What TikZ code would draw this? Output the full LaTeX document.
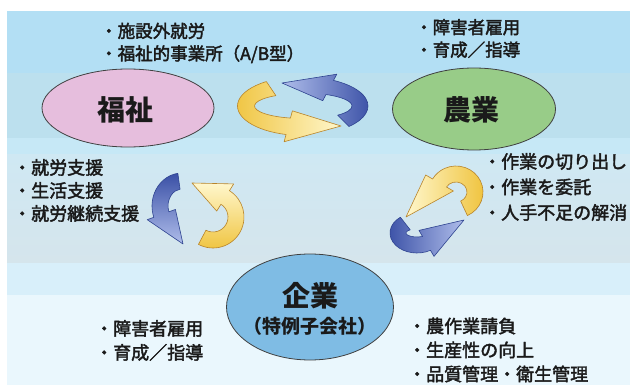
\documentclass[tikz,border=0pt]{standalone}
\usepackage{fontspec}
\setmainfont{Noto Sans CJK JP}
\newfontfamily\jpbul[FakeBold=2.2]{Noto Sans CJK JP}
\usetikzlibrary{shapes.geometric}
\definecolor{bandA}{HTML}{B3DFF4}
\definecolor{bandB}{HTML}{BCE0EE}
\definecolor{bandC}{HTML}{C6E8F6}
\definecolor{bandD}{HTML}{CFE8F3}
\definecolor{bandDD}{HTML}{D5E5EC}
\definecolor{bandE}{HTML}{D8EFFA}
\definecolor{bandF}{HTML}{EAF7FD}
\definecolor{pinkfill}{HTML}{E6BEDD}
\definecolor{greenfill}{HTML}{98CC88}
\definecolor{bluefill}{HTML}{7FBCE4}
\definecolor{ylight}{HTML}{FFF7CC}
\definecolor{ydark}{HTML}{EFC23A}
\definecolor{yedge}{HTML}{B8842A}
\definecolor{blight}{HTML}{AFBDEA}
\definecolor{bdark}{HTML}{3A50A6}
\definecolor{bedge}{HTML}{2E4390}
\definecolor{txt}{HTML}{1A1A1A}
% #1 centre, #2 rx, #3 ry, #4 tail angle, #5 head-base angle, #6 half band width,
% #7 half head width, #8 tip (relative), #9 style
\newcommand\cycarrow[9]{%
  \begin{scope}[shift={(#1)}]
    \path[#9] ({#4}:{#2+#6} and {#3+#6})
      arc[start angle=#4, end angle=#5, x radius={#2+#6}, y radius={#3+#6}]
      -- ({#5}:{#2+#7} and {#3+#7}) -- (#8) -- ({#5}:{#2-#7} and {#3-#7})
      -- ({#5}:{#2-#6} and {#3-#6})
      arc[start angle=#5, end angle=#4, x radius={#2-#6}, y radius={#3-#6}]
      -- cycle;
  \end{scope}}
\tikzset{
  ell/.style={ellipse, draw=black!75, line width=0.8pt, inner sep=0pt},
  title/.style={font=\bfseries\fontsize{28}{30}\selectfont, text=txt, inner sep=0pt},
  bl/.style={anchor=west, align=left, text=txt, inner sep=0pt, font=\jpbul\fontsize{18}{24}\selectfont},
  bltop/.style={bl, font=\jpbul\fontsize{17.5}{22.5}\selectfont},
  yarr/.style={draw=yedge, line width=0.6pt, line join=round},
  barr/.style={draw=bedge, line width=0.6pt, line join=round},
}
\begin{document}
\begin{tikzpicture}[x=1pt, y=-1pt]
\useasboundingbox (0,0) rectangle (630,385);
\fill[white] (0,0) rectangle (630,385);
\fill[bandA] (7,11) rectangle (630,73);
\fill[bandB] (7,73) rectangle (630,138);
\fill[bandC] (7,138) rectangle (630,155);
\shade[top color=bandD, bottom color=bandDD] (7,155) rectangle (630,263);
\fill[bandE] (7,263) rectangle (630,295);
\fill[bandF] (7,295) rectangle (630,385);

% ellipses
\node[ell, fill=pinkfill, minimum width=172pt, minimum height=78pt] (fukushi) at (128,108) {};
\node[title] (fukushiT) at (125,110) {福祉};
\node[ell, fill=greenfill, minimum width=163pt, minimum height=82pt] (nogyo) at (474,109) {};
\node[title] (nogyoT) at (471,110) {農業};
\node[ell, fill=bluefill, minimum width=167pt, minimum height=106pt] (kigyo) at (310,307) {};
\node[title] (kigyoT) at (310,296) {企業};
\node[font=\bfseries\fontsize{19}{22}\selectfont, text=txt, inner sep=0pt] (kigyoS) at (310,326) {（特例子会社）};

% cycle arrows: top
\cycarrow{303,106}{57}{21}{236}{105}{8.5}{16}{38,20}{yarr, left color=ydark, right color=ylight}
\cycarrow{303,106}{57}{21}{45}{-62}{8}{15}{-21,-23}{barr, left color=blight, right color=bdark}
% left
\cycarrow{182,206}{22}{25}{262}{160}{8}{15}{1,38}{barr, top color=bdark, bottom color=blight}
\cycarrow{213,217}{23}{23}{118}{-58}{8}{16}{-21,-34}{yarr, top color=ylight, bottom color=ydark}
% right
\cycarrow{456,192}{19}{18}{65}{-150}{8}{16}{-50,25}{yarr, left color=ylight, right color=ydark}
\cycarrow{417,233}{19}{12}{232}{60}{8}{15}{47,-13}{barr, left color=bdark, right color=blight}

% bullet texts
\node[bltop] (tl) at (100,43) {・施設外就労\\・福祉的事業所（A/B型）};
\node[bltop] (tr) at (415,38.5) {・障害者雇用\\・育成／指導};
\node[bl, font=\jpbul\fontsize{18}{23}\selectfont] (ml) at (13,190.5) {・就労支援\\・生活支援\\・就労継続支援};
\node[bl, font=\jpbul\fontsize{18}{25.5}\selectfont] (mr) at (483,187) {・作業の切り出し\\・作業を委託\\・人手不足の解消};
\node[bl] (bll) at (95,340.5) {・障害者雇用\\・育成／指導};
\node[bl] (brr) at (408,350) {・農作業請負\\・生産性の向上\\・品質管理・衛生管理};
\end{tikzpicture}
\end{document}
